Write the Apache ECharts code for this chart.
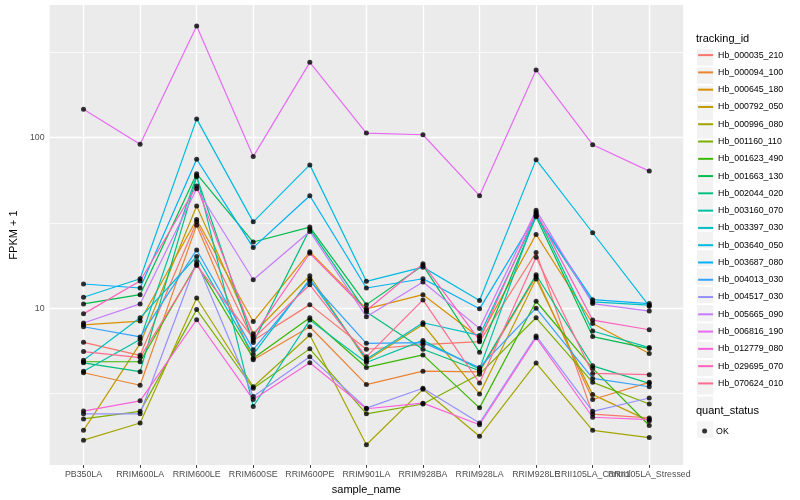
<!DOCTYPE html>
<html><head><meta charset="utf-8">
<script src="https://cdn.jsdelivr.net/npm/echarts@6/dist/echarts.min.js"></script>
<style>html,body{margin:0;padding:0;background:#fff}#c{width:800px;height:500px}</style>
</head><body><div id="c"></div>
<script>
const categories = ['PB350LA','RRIM600LA','RRIM600LE','RRIM600SE','RRIM600PE','RRIM901LA','RRIM928BA','RRIM928LA','RRIM928LE','RRII105LA_Control','RRII105LA_Stressed'];
const trackingIds = ['Hb_000035_210','Hb_000094_100','Hb_000645_180','Hb_000792_050','Hb_000996_080','Hb_001160_110','Hb_001623_490','Hb_001663_130','Hb_002044_020','Hb_003160_070','Hb_003397_030','Hb_003640_050','Hb_003687_080','Hb_004013_030','Hb_004517_030','Hb_005665_090','Hb_006816_190','Hb_012779_080','Hb_029695_070','Hb_070624_010'];
const colors = ['#F8766D','#EA8331','#D89000','#C09B00','#A3A500','#7CAE00','#39B600','#00BB4E','#00BF7D','#00C1A3','#00BFC4','#00BAE0','#00B0F6','#35A2FF','#9590FF','#C77CFF','#E76BF3','#FA62DB','#FF62BC','#FF6C91'];
const yTickLabels = [10, 100];
const yMajorGrid = [10, 100];
const yMinorGrid = [3.162, 31.62, 316.2];
const quantStatus = 'OK';

const hb000035_210 = [6.30, 5.29, 32.1, 6.47, 10.49, 5.74, 6.11, 6.36, 21.2, 2.39, 2.27];
const hb000094_100 = [4.18, 3.53, 30.7, 4.98, 7.78, 3.56, 4.27, 4.23, 15.36, 2.91, 3.67];
const hb000645_180 = [7.99, 8.40, 33.1, 8.35, 21.4, 9.91, 12.00, 6.71, 27.1, 8.13, 5.42];
const hb000792_050 = [1.92, 6.19, 39.8, 7.08, 15.49, 4.91, 8.02, 3.14, 14.82, 3.11, 2.18];
const hb000996_080 = [1.68, 2.12, 11.48, 3.46, 6.96, 1.58, 3.34, 1.77, 4.76, 1.92, 1.74];
const hb001160_110 = [2.24, 2.48, 9.81, 3.39, 5.77, 2.40, 2.74, 4.10, 8.78, 3.67, 2.74];
const hb001623_490 = [4.85, 4.85, 18.12, 5.08, 8.78, 4.49, 5.32, 2.60, 10.98, 4.43, 2.05];
const hb001663_130 = [10.59, 12.00, 61.4, 24.44, 29.9, 10.49, 17.81, 5.51, 34.4, 6.81, 5.79];
const hb002044_020 = [4.78, 4.24, 59.0, 6.28, 29.1, 9.48, 5.74, 4.29, 15.70, 4.59, 3.62];
const hb003160_070 = [4.27, 6.54, 60.0, 2.65, 8.51, 4.80, 6.47, 4.39, 35.9, 7.35, 5.87];
const hb003397_030 = [4.95, 8.78, 20.1, 5.36, 14.82, 5.02, 8.21, 6.92, 34.7, 10.88, 10.41];
const hb003640_050 = [11.59, 14.88, 129.0, 32.1, 69.3, 14.37, 17.41, 11.08, 74.4, 27.7, 10.27];
const hb003687_080 = [13.86, 13.13, 74.8, 22.67, 45.7, 13.13, 14.88, 9.91, 35.1, 11.22, 10.64];
const hb004013_030 = [7.78, 6.78, 21.96, 5.71, 14.48, 6.22, 6.28, 4.49, 10.0, 3.87, 3.46];
const hb004517_030 = [2.40, 2.40, 18.79, 3.03, 5.18, 2.59, 3.39, 2.12, 6.87, 2.48, 2.97];
const hb005665_090 = [8.18, 10.59, 50.2, 14.68, 28.2, 8.90, 14.23, 7.61, 37.6, 10.64, 9.61];
const hb006816_190 = [147, 91.5, 452, 77.5, 277, 106.5, 104.1, 45.7, 250, 91.0, 63.7];
const hb012779_080 = [2.49, 2.86, 8.55, 2.91, 4.78, 2.57, 2.77, 2.07, 6.71, 2.29, 2.22];
const hb029695_070 = [9.26, 14.43, 52.1, 6.87, 21.0, 9.68, 18.2, 6.47, 36.6, 8.51, 7.47];
const hb070624_010 = [5.56, 5.13, 17.81, 6.65, 13.72, 5.18, 11.18, 3.64, 19.9, 4.14, 4.07];

const seriesValues = [hb000035_210, hb000094_100, hb000645_180, hb000792_050, hb000996_080, hb001160_110, hb001623_490, hb001663_130, hb002044_020, hb003160_070, hb003397_030, hb003640_050, hb003687_080, hb004013_030, hb004517_030, hb005665_090, hb006816_190, hb012779_080, hb029695_070, hb070624_010];

const FONT = '"Liberation Sans", Arial, Helvetica, sans-serif';
const catIdx = categories.map((c, i) => i);
const evenIdx = catIdx.filter(i => i % 2 === 0);
const oddIdx = catIdx.filter(i => i % 2 === 1);

const lineSeries = trackingIds.map((id, k) => ({
  name: id,
  type: 'line',
  color: colors[k],
  xAxisIndex: 0,
  data: seriesValues[k].map((v, i) => [i, v]),
  symbol: 'none',
  showSymbol: false,
  lineStyle: { width: 1.2, color: colors[k] },
  z: 2,
  silent: true,
  animation: false,
  emphasis: { disabled: true }
}));

const pointData = [];
seriesValues.forEach(vals => vals.forEach((v, i) => pointData.push([i, v])));

const gridLines = [];
catIdx.forEach(i => gridLines.push({ xAxis: i, lineStyle: { color: '#FFFFFF', width: 1.4, type: 'solid' } }));
yMajorGrid.forEach(v => gridLines.push({ yAxis: v, lineStyle: { color: '#FFFFFF', width: 1.4, type: 'solid' } }));
yMinorGrid.forEach(v => gridLines.push({ yAxis: v, lineStyle: { color: '#FFFFFF', width: 0.7, type: 'solid' } }));

const pointSeries = {
  name: quantStatus,
  type: 'scatter',
  color: '#000000',
  xAxisIndex: 0,
  data: pointData,
  symbol: 'circle',
  symbolSize: 5,
  itemStyle: { color: '#000000' },
  z: 3,
  silent: true,
  animation: false,
  emphasis: { disabled: true },
  markLine: {
    silent: true,
    z: 1,
    animation: false,
    symbol: ['none', 'none'],
    label: { show: false },
    emphasis: { disabled: true },
    data: gridLines
  }
};

const legendText = { fontSize: 8.8, color: '#000000', fontFamily: FONT };
const KEY = 17.28;
const xLabelStyle = { fontSize: 8.8, color: '#4D4D4D', margin: 5, fontFamily: FONT, hideOverlap: false, formatter: v => categories[Math.round(v)] };

const option = {
  animation: false,
  backgroundColor: '#FFFFFF',
  title: [
    { text: 'tracking_id', left: 696, top: 33.5, padding: 0, textStyle: { fontSize: 11, fontWeight: 'normal', color: '#000000', fontFamily: FONT } },
    { text: 'quant_status', left: 696, top: 405.8, padding: 0, textStyle: { fontSize: 11, fontWeight: 'normal', color: '#000000', fontFamily: FONT } }
  ],
  legend: [
    { data: trackingIds, orient: 'vertical', left: 696, top: 48.2, padding: 0, itemGap: 0, itemWidth: KEY, itemHeight: KEY,
      icon: 'rect', itemStyle: { color: '#F2F2F2', borderColor: '#FFFFFF', borderWidth: 1 }, formatter: () => '', selectedMode: false, textStyle: legendText },
    { data: trackingIds, orient: 'vertical', left: 697.1, top: 48.2, padding: 0, itemGap: KEY * 0.2, itemWidth: 15, itemHeight: KEY,
      itemStyle: { color: 'rgba(0,0,0,0)', borderWidth: 0, opacity: 0 }, selectedMode: false, textStyle: legendText },
    { data: [quantStatus], orient: 'vertical', left: 696, top: 420.5, padding: 0, itemWidth: KEY, itemHeight: KEY,
      icon: 'rect', itemStyle: { color: '#F2F2F2', borderColor: '#FFFFFF', borderWidth: 1 }, formatter: () => '', selectedMode: false, textStyle: legendText },
    { data: [quantStatus], orient: 'vertical', left: 702.1, top: 426.6, padding: 0, itemWidth: 5, itemHeight: 5,
      icon: 'circle', itemStyle: { color: '#000000' }, selectedMode: false, textStyle: Object.assign({ padding: [0, 0, 0, 4] }, legendText) }
  ],
  grid: { left: 39.5, right: 116.8, top: 5, bottom: 31.7, show: true, backgroundColor: '#EBEBEB', borderWidth: 0 },
  xAxis: [
    {
      type: 'value', min: -0.6, max: 10.6, position: 'bottom', offset: 0,
      name: 'sample_name', nameLocation: 'middle', nameGap: 14.5,
      nameTextStyle: { fontSize: 11, color: '#000000', fontFamily: FONT },
      axisLine: { show: false },
      axisTick: { show: true, customValues: catIdx, length: 2.75, lineStyle: { color: '#333333', width: 1 } },
      axisLabel: Object.assign({ customValues: evenIdx }, xLabelStyle),
      splitLine: { show: false }
    },
    {
      type: 'value', min: -0.6, max: 10.6, position: 'bottom', offset: 0,
      axisLine: { show: false },
      axisTick: { show: false },
      axisLabel: Object.assign({ customValues: oddIdx }, xLabelStyle),
      splitLine: { show: false }
    }
  ],
  yAxis: {
    type: 'log', logBase: 10, min: 1.2, max: 601,
    name: 'FPKM + 1', nameLocation: 'middle', nameGap: 21, nameRotate: 90,
    nameTextStyle: { fontSize: 11, color: '#000000', fontFamily: FONT },
    axisLine: { show: false },
    axisTick: { show: true, customValues: yTickLabels, length: 2.75, lineStyle: { color: '#333333', width: 1 } },
    axisLabel: { customValues: yTickLabels, fontSize: 8.8, color: '#4D4D4D', margin: 5, fontFamily: FONT },
    splitLine: { show: false },
    minorSplitLine: { show: false }
  },
  series: lineSeries.concat([pointSeries])
};

const chart = echarts.init(document.getElementById('c'), null, { renderer: 'canvas' });
chart.setOption(option);
</script>
</body></html>
